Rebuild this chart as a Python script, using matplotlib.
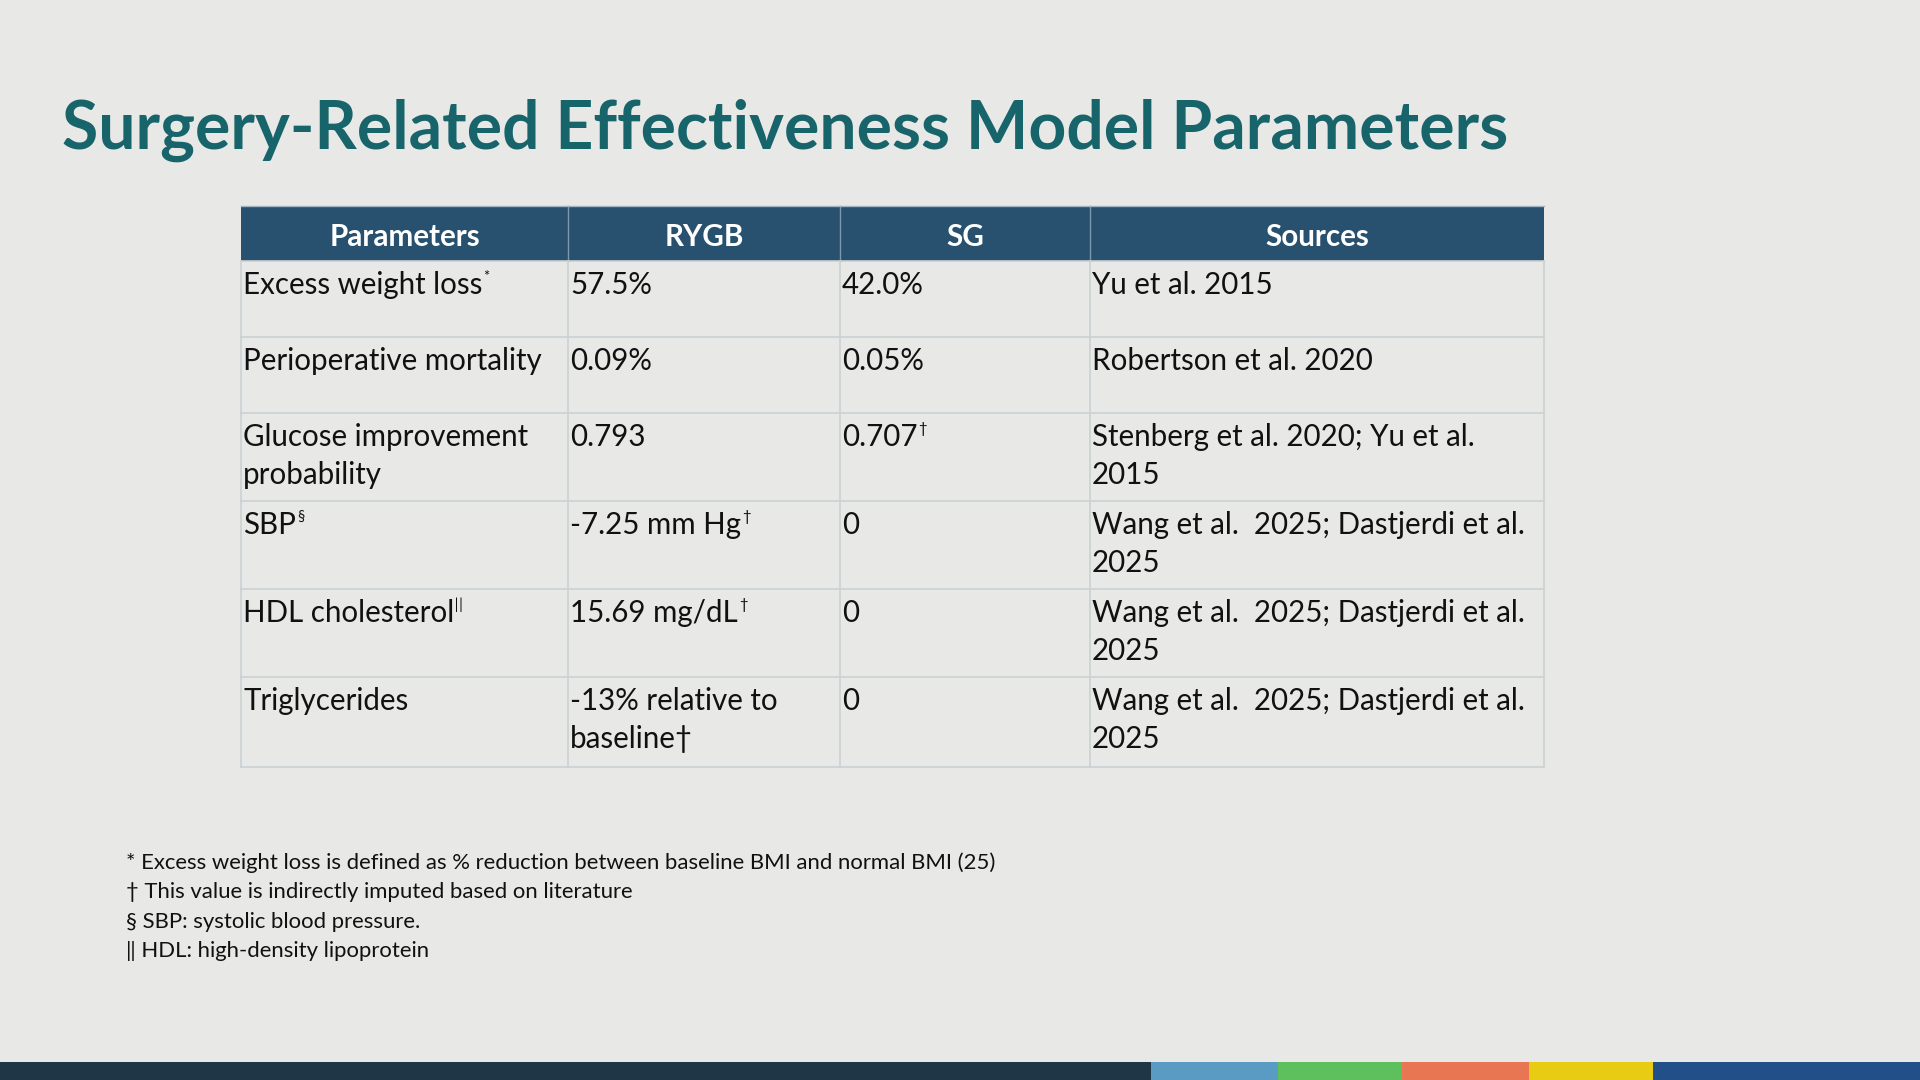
import matplotlib.pyplot as plt
from matplotlib.patches import Rectangle

# slide content
title = "Surgery-Related Effectiveness Model Parameters"
headers = ["Parameters", "RYGB", "SG", "Sources"]
params = ["Excess weight loss", "Perioperative mortality", "Glucose improvement\nprobability",
          "SBP", "HDL cholesterol", "Triglycerides"]
param_marks = ["*", "", "", "§", "ǁ", ""]
rygb = ["57.5%", "0.09%", "0.793", "-7.25 mm Hg", "15.69 mg/dL", "-13% relative to\nbaseline†"]
rygb_marks = ["", "", "", "†", "†", ""]
sg = ["42.0%", "0.05%", "0.707", "0", "0", "0"]
sg_marks = ["", "", "†", "", "", ""]
sources = ["Yu et al. 2015", "Robertson et al. 2020", "Stenberg et al. 2020; Yu et al.\n2015",
           "Wang et al.  2025; Dastjerdi et al.\n2025", "Wang et al.  2025; Dastjerdi et al.\n2025",
           "Wang et al.  2025; Dastjerdi et al.\n2025"]
footnotes = ["* Excess weight loss is defined as % reduction between baseline BMI and normal BMI (25)",
             "† This value is indirectly imputed based on literature",
             "§ SBP: systolic blood pressure.",
             "‖ HDL: high-density lipoprotein"]

# layout (pixels on a 1920x1080 slide)
col_x = [241, 568, 840, 1090, 1544]
row_y = [206, 261, 337, 413, 501, 589, 677, 767]
bar_x = [0, 1151, 1278, 1402, 1529, 1653, 1920]
bar_colors = ["#1f3647", "#5a9bc3", "#5ebf5d", "#e87653", "#e8cc14", "#224f87"]

BG = "#e8e9e7"
HEAD = "#28516f"
GRID = "#cbd1d3"
TEAL = "#17646b"
FONT = ["Lato", "DejaVu Sans"]

fig = plt.figure(figsize=(19.2, 10.8), dpi=100, facecolor=BG)
ax = fig.add_axes([0, 0, 1, 1])
ax.set_xlim(0, 1920)
ax.set_ylim(1080, 0)
ax.axis("off")
renderer = fig.canvas.get_renderer()


def fit(text, target, weight="normal"):
    t = ax.text(0, 0, text, fontsize=20, family=FONT, weight=weight)
    w = t.get_window_extent(renderer).width
    t.remove()
    return 20 * target / w


def put(x, y, s, size, sup="", **kw):
    t = ax.text(x, y, s, fontsize=size, family=FONT, va="baseline", **kw)
    if sup:
        bb = t.get_window_extent(renderer).transformed(ax.transData.inverted())
        ax.text(bb.x1 + 1, y - size * 0.6, sup, fontsize=size * 0.5, family=FONT,
                va="baseline", color=kw.get("color", "#111111"))
    return t


title_size = fit(title, 1447, "bold")
body_size = fit("Perioperative mortality", 299)
head_size = fit("Parameters", 151, "bold")
note_size = fit(footnotes[0], 872)

put(62, 149, title, title_size, color=TEAL, weight="bold")

# header band
ax.add_patch(Rectangle((col_x[0], row_y[0]), col_x[-1] - col_x[0], row_y[1] - row_y[0],
                       facecolor=HEAD, edgecolor="none"))
for i, h in enumerate(headers):
    ax.text((col_x[i] + col_x[i + 1]) / 2, 246, h, fontsize=head_size, family=FONT,
            weight="bold", color="white", ha="center", va="baseline")
for x in col_x[1:-1]:
    ax.plot([x, x], [row_y[0], row_y[1]], color="#7d97ab", lw=1)

# grid lines
for y in row_y[1:]:
    ax.plot([col_x[0], col_x[-1]], [y, y], color=GRID, lw=1.2)
for x in col_x:
    ax.plot([x, x], [row_y[1], row_y[-1]], color=GRID, lw=1.2)
ax.plot([col_x[0], col_x[-1]], [row_y[0], row_y[0]], color="#9fb2c0", lw=1)

columns = [(params, param_marks), (rygb, rygb_marks), (sg, sg_marks), (sources, [""] * 6)]
for r in range(len(params)):
    base = row_y[r + 1] + 33
    for c, (vals, marks) in enumerate(columns):
        lines = vals[r].split("\n")
        for k, line in enumerate(lines):
            put(col_x[c] + 2, base + k * 38, line, body_size,
                sup=marks[r] if k == len(lines) - 1 else "", color="#111111")

# footnotes
for i, note in enumerate(footnotes):
    put(126, 869 + i * 29.3, note, note_size, color="#111111")

# bottom colour strip
for i, col in enumerate(bar_colors):
    ax.add_patch(Rectangle((bar_x[i], 1062), bar_x[i + 1] - bar_x[i], 18,
                           facecolor=col, edgecolor="none"))

fig.savefig("out.png", dpi=100, facecolor=BG)
